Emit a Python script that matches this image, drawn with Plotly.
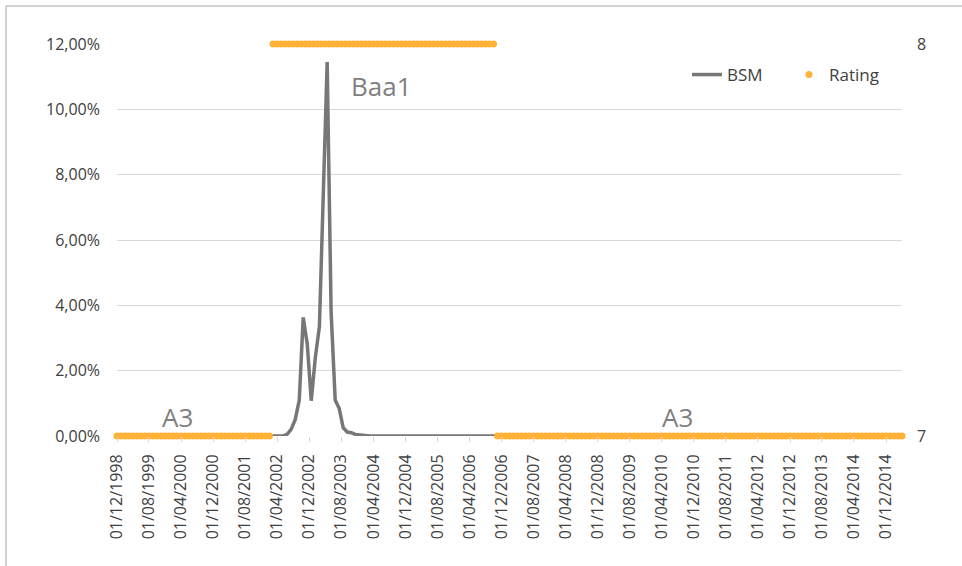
import pandas as pd
import plotly.graph_objects as go

# ---------------- data ----------------
# Moody's rating (numeric scale, 7 = A3, 8 = Baa1), monthly: (first month, last month, value)
rating_segments = [
    ("1998-12-01", "2002-02-01", 7),
    ("2002-03-01", "2006-10-01", 8),
    ("2006-11-01", "2015-04-01", 7),
]

# BSM default probability (%), monthly observations dated mid-month, Dec 1998 .. Mar 2015
bsm_first = "1998-12-16"
bsm_pct = (
    [0.0] * 40
    + [0.00, 0.05, 0.20, 0.50, 1.10, 3.63, 2.80, 1.08, 2.40, 3.35, 7.40,
       11.45, 3.80, 1.10, 0.85, 0.25, 0.12, 0.10, 0.05, 0.03, 0.02, 0.01]
    + [0.0] * 134
)

x_tick_labels = [
    "01/12/1998", "01/08/1999", "01/04/2000", "01/12/2000", "01/08/2001",
    "01/04/2002", "01/12/2002", "01/08/2003", "01/04/2004", "01/12/2004",
    "01/08/2005", "01/04/2006", "01/12/2006", "01/08/2007", "01/04/2008",
    "01/12/2008", "01/08/2009", "01/04/2010", "01/12/2010", "01/08/2011",
    "01/04/2012", "01/12/2012", "01/08/2013", "01/04/2014", "01/12/2014",
]
y_tick_values = [0.0, 0.02, 0.04, 0.06, 0.08, 0.10, 0.12]
y2_tick_values = [7, 8]

labels = [("Baa1", "2004-06-01", 8), ("A3", "2000-03-01", 7), ("A3", "2010-08-01", 7)]

# ---------------- build ----------------
r_dates, r_vals = [], []
for a, b, v in rating_segments:
    d = pd.date_range(a, b, freq="MS")
    r_dates += list(d)
    r_vals += [v] * len(d)

bsm_dates = pd.date_range(bsm_first, periods=len(bsm_pct), freq="MS") + pd.Timedelta(days=15)
bsm_dates = [d for d in bsm_dates]
bsm_vals = [p / 100 for p in bsm_pct]

tickvals = [pd.to_datetime(t, format="%d/%m/%Y") for t in x_tick_labels]

W, H = 962, 566
L, R, T, B = 117, 60, 44, 130
PW, PH = W - L - R, H - T - B

def px(x):
    return (x - L) / PW

def py(y):
    return (H - B - y) / PH

FONT = "Open Sans"
TXT = "#404040"
GRID = "#d9d9d9"

fig = go.Figure()
fig.add_trace(go.Scatter(
    x=bsm_dates, y=bsm_vals, name="BSM", mode="lines", cliponaxis=False,
    line=dict(color="#77777a", width=3.5),
))
fig.add_trace(go.Scatter(
    x=r_dates, y=r_vals, name="Rating", mode="markers", yaxis="y2", cliponaxis=False,
    marker=dict(color="#FFB236", size=7, line=dict(width=0)),
))

for text, d, lvl in labels:
    fig.add_annotation(
        x=d, y=lvl, xref="x", yref="y2", text=text, showarrow=False,
        yshift=-42 if lvl == 8 else 19,
        font=dict(family=FONT, size=26, color="#7f7f7f"),
    )

# chart-area frame (left and top edges visible)
fig.add_shape(type="line", xref="paper", yref="paper",
              x0=px(6), x1=px(W + 5), y0=py(6), y1=py(6),
              line=dict(color="#a6a6a6", width=1))
fig.add_shape(type="line", xref="paper", yref="paper",
              x0=px(6), x1=px(6), y0=py(6), y1=py(H + 5),
              line=dict(color="#a6a6a6", width=1))

fig.update_layout(
    width=W, height=H,
    margin=dict(l=L, r=R, t=T, b=B),
    paper_bgcolor="white", plot_bgcolor="white",
    separators=",.",
    font=dict(family=FONT, size=16, color=TXT),
    showlegend=True,
    legend=dict(orientation="h", x=px(687), y=py(75), xanchor="left", yanchor="middle",
                font=dict(family=FONT, size=17, color=TXT), bgcolor="rgba(0,0,0,0)",
                itemwidth=30, entrywidthmode="pixels", entrywidth=57),
    xaxis=dict(
        type="date", range=["1998-12-01", "2015-04-01"],
        tickmode="array", tickvals=tickvals, ticktext=x_tick_labels,
        tickangle=-90, ticks="outside", ticklen=5, tickcolor=GRID,
        showgrid=False, showline=False, zeroline=False,
        ticklabelstandoff=6,
        tickfont=dict(family=FONT, size=16, color=TXT),
    ),
    yaxis=dict(
        range=[0, 0.12], tickmode="array", tickvals=y_tick_values, tickformat=".2%",
        showgrid=True, gridcolor=GRID, gridwidth=1, zeroline=False, showline=False,
        ticks="", ticklabelstandoff=16,
        tickfont=dict(family=FONT, size=16, color=TXT),
    ),
    yaxis2=dict(
        range=[7, 8], overlaying="y", side="right", tickmode="array",
        tickvals=y2_tick_values, showgrid=False, zeroline=False, showline=False,
        ticks="", ticklabelstandoff=14,
        tickfont=dict(family=FONT, size=16, color=TXT),
    ),
)

fig.write_html("out.html", config={"displayModeBar": False},
               post_script="document.body.style.margin='0';document.body.style.overflow='hidden';")
